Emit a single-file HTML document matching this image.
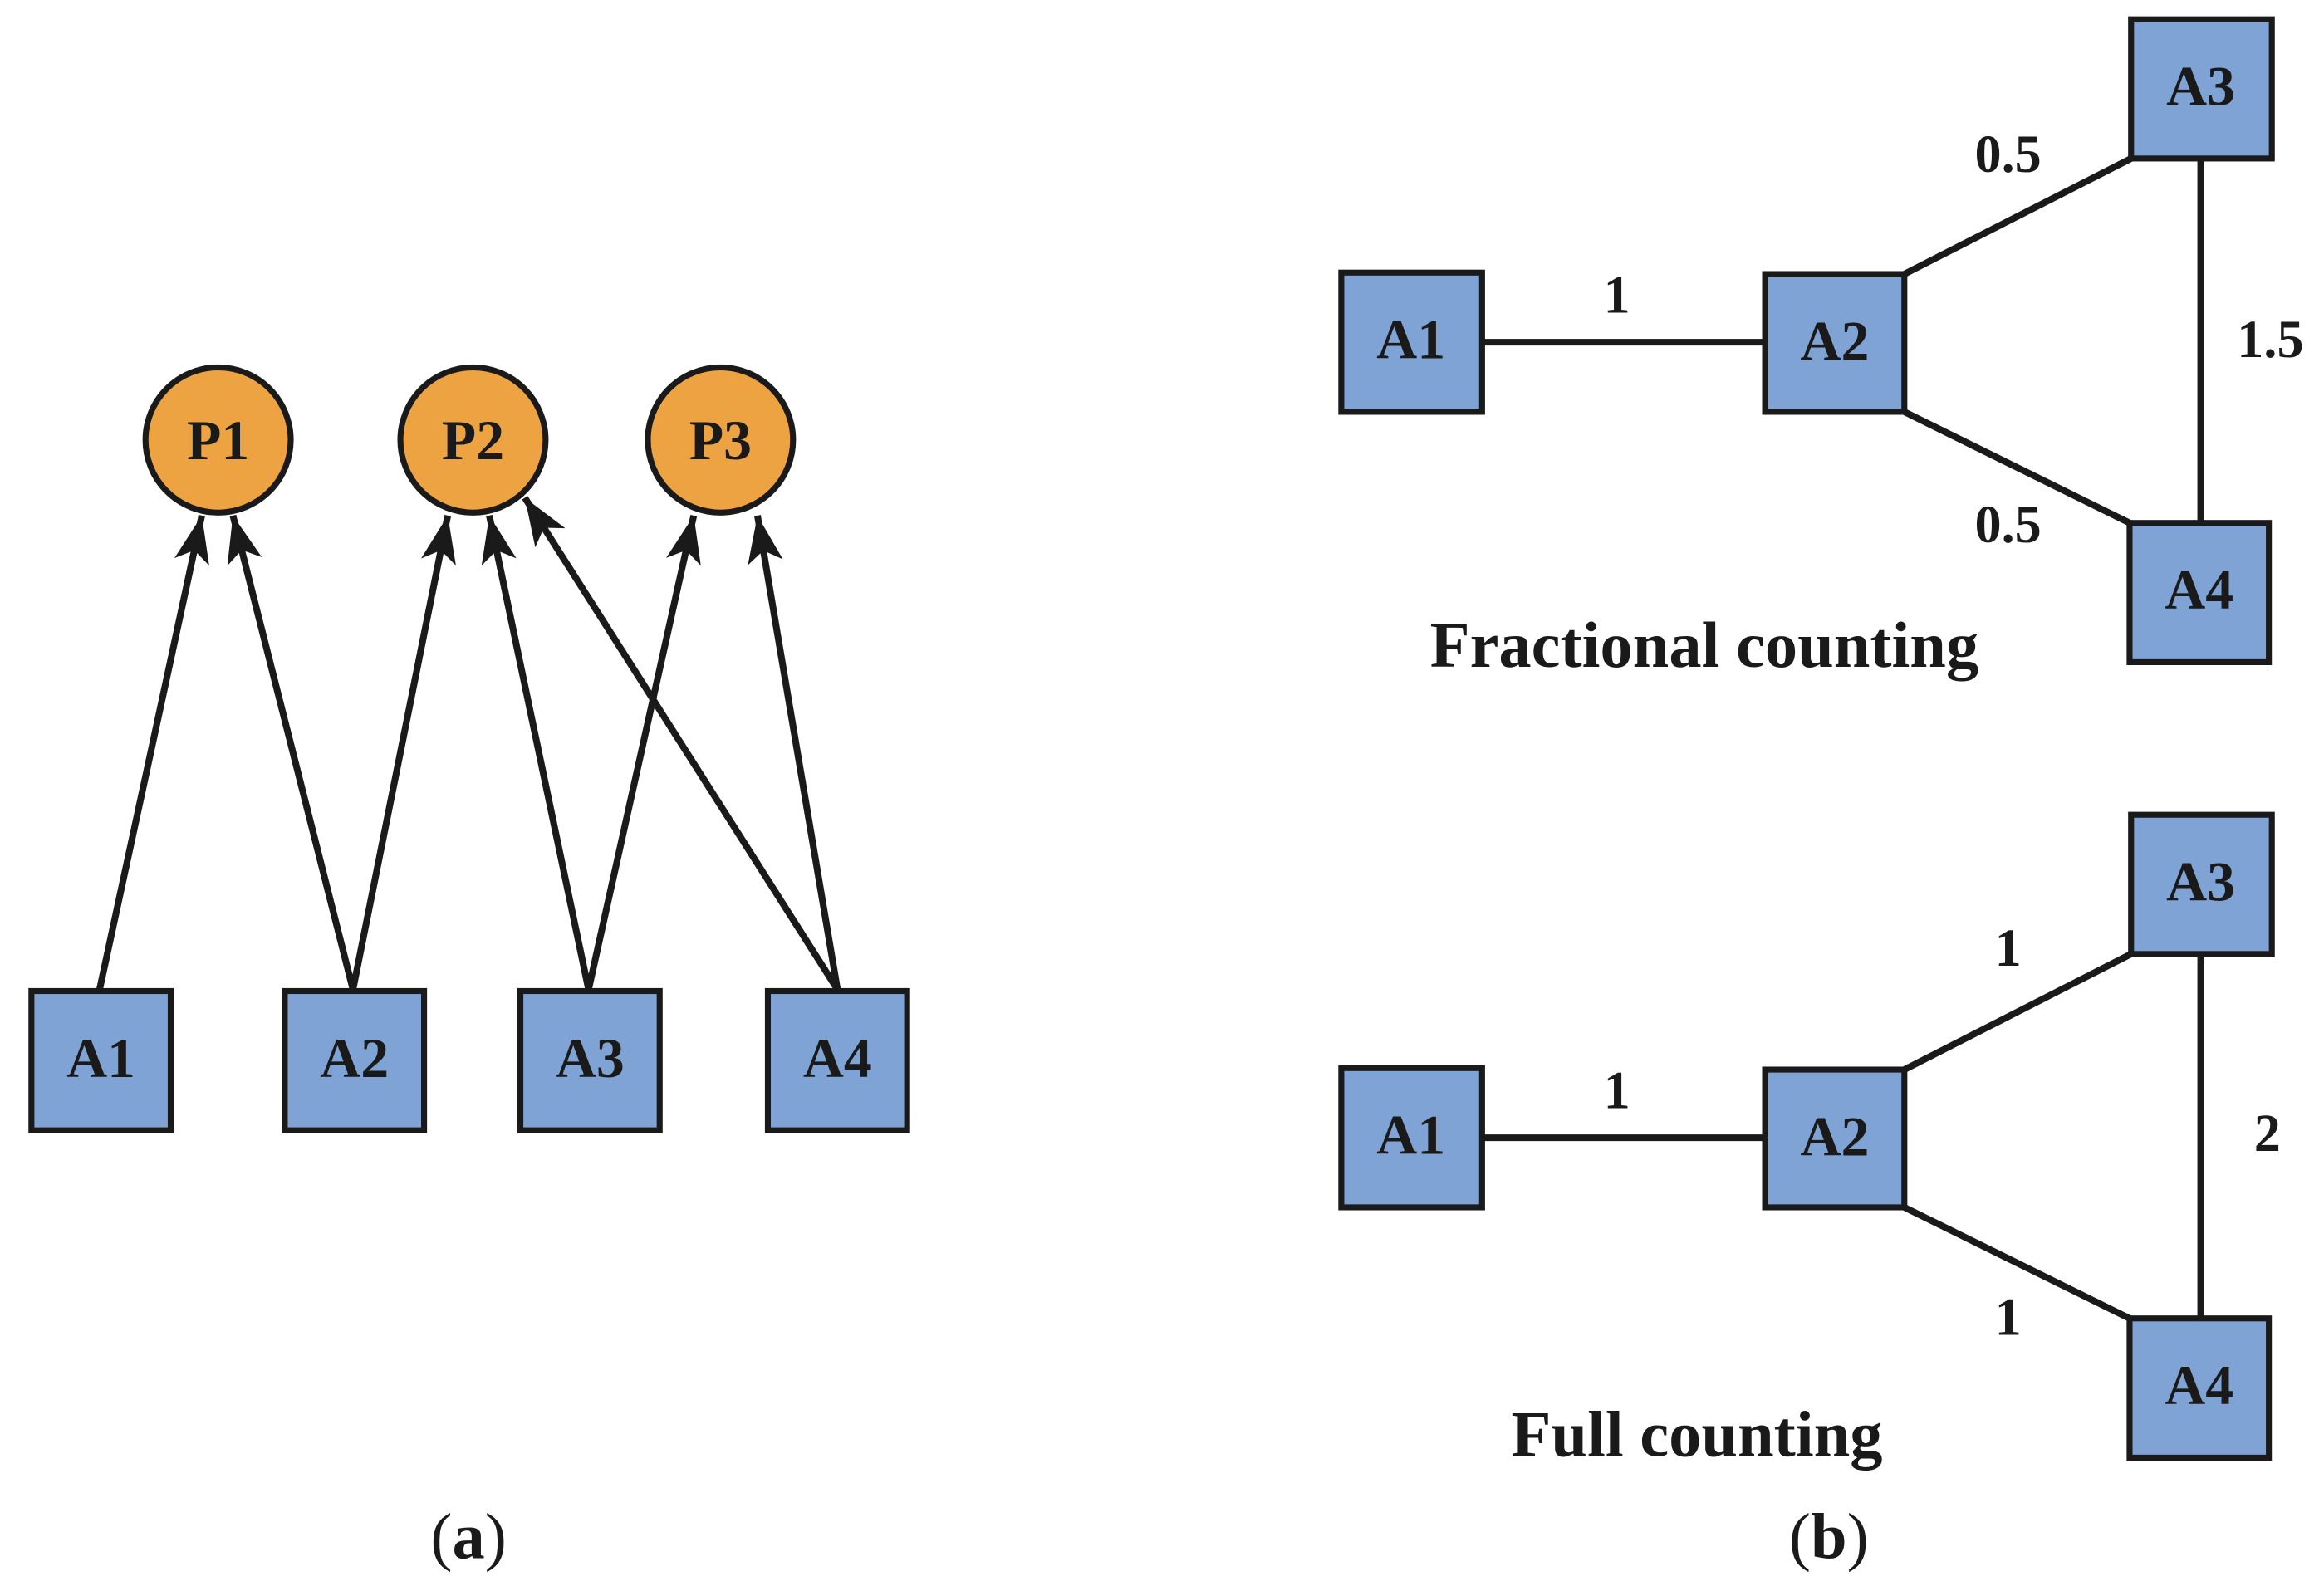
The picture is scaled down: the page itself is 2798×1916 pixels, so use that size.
<!DOCTYPE html>
<html><head><meta charset="utf-8"><style>
html,body{margin:0;padding:0;background:#fff;}
svg{display:block;}
</style></head><body>
<svg width="2798" height="1916" viewBox="0 0 1568 1074" xmlns="http://www.w3.org/2000/svg" font-family="'Liberation Serif', serif" font-weight="bold">
<defs>
<marker id="ah" markerUnits="userSpaceOnUse" markerWidth="34" markerHeight="28" viewBox="0 0 34 28" refX="32" refY="14" orient="auto">
<path d="M0,2 L32,14 L0,26 L8,14 Z" fill="#1a1a1a"/>
</marker>
</defs>
<rect width="1568" height="1074" fill="#fff"/>
<g stroke="#1a1a1a" stroke-width="4.5" fill="none">
<line x1="67" y1="668" x2="136" y2="348" marker-end="url(#ah)"/>
<line x1="238" y1="668" x2="157" y2="348" marker-end="url(#ah)"/>
<line x1="238" y1="668" x2="302" y2="348" marker-end="url(#ah)"/>
<line x1="397" y1="668" x2="330" y2="348" marker-end="url(#ah)"/>
<line x1="397" y1="668" x2="468" y2="348" marker-end="url(#ah)"/>
<line x1="565" y1="668" x2="354" y2="336" marker-end="url(#ah)"/>
<line x1="565" y1="668" x2="511" y2="348" marker-end="url(#ah)"/>
</g>
<g stroke="#1a1a1a" stroke-width="4" fill="#eda342">
<circle cx="147" cy="297" r="49"/>
<circle cx="319" cy="297" r="49"/>
<circle cx="486" cy="297" r="49"/>
</g>
<g font-size="38" text-anchor="middle" fill="#1a1a1a">
<text x="147" y="310">P1</text><text x="319" y="310">P2</text><text x="486" y="310">P3</text>
</g>
<g stroke="#1a1a1a" stroke-width="4" fill="#7fa3d4">
<rect x="21" y="669" width="94" height="94"/>
<rect x="192" y="669" width="94" height="94"/>
<rect x="351" y="669" width="94" height="94"/>
<rect x="518" y="669" width="94" height="94"/>
</g>
<g font-size="38" text-anchor="middle" fill="#1a1a1a">
<text x="68" y="727">A1</text><text x="239" y="727">A2</text><text x="398" y="727">A3</text><text x="565" y="727">A4</text>
</g>

<g stroke="#1a1a1a" stroke-width="4.5">
<line x1="1000" y1="231" x2="1191" y2="231"/>
<line x1="1285" y1="185" x2="1438" y2="107"/>
<line x1="1285" y1="278" x2="1437" y2="353"/>
<line x1="1485" y1="107" x2="1485" y2="353"/>
<line x1="1000" y1="768" x2="1191" y2="768"/>
<line x1="1285" y1="722" x2="1438" y2="644"/>
<line x1="1285" y1="815" x2="1437" y2="890"/>
<line x1="1485" y1="644" x2="1485" y2="890"/>
</g>
<g stroke="#1a1a1a" stroke-width="4" fill="#7fa3d4">
<rect x="905" y="184" width="95" height="94"/>
<rect x="1191" y="185" width="94" height="93"/>
<rect x="1438" y="13" width="95" height="94"/>
<rect x="1437" y="353" width="94" height="94"/>
<rect x="905" y="721" width="95" height="94"/>
<rect x="1191" y="722" width="94" height="93"/>
<rect x="1438" y="550" width="95" height="94"/>
<rect x="1437" y="890" width="94" height="94"/>
</g>
<g font-size="38" text-anchor="middle" fill="#1a1a1a">
<text x="952" y="242">A1</text><text x="1238" y="243">A2</text><text x="1485" y="71">A3</text><text x="1484" y="411">A4</text>
<text x="952" y="779">A1</text><text x="1238" y="780">A2</text><text x="1485" y="608">A3</text><text x="1484" y="948">A4</text>
</g>
<g font-size="36" text-anchor="middle" fill="#1a1a1a">
<text x="1091" y="211">1</text><text x="1355" y="116">0.5</text><text x="1532" y="241">1.5</text><text x="1355" y="366">0.5</text>
<text x="1091" y="748">1</text><text x="1355" y="652">1</text><text x="1530" y="777">2</text><text x="1355" y="901">1</text>
</g>
<g font-size="44" text-anchor="middle" fill="#1a1a1a">
<text x="1150" y="450">Fractional counting</text>
<text x="1145" y="983">Full counting</text>
</g>
<g font-size="44" text-anchor="middle" fill="#1a1a1a">
<text x="316" y="1052" font-weight="normal">(<tspan font-weight="bold">a</tspan>)</text>
<text x="1234" y="1052" font-weight="normal">(<tspan font-weight="bold">b</tspan>)</text>
</g>
</svg>
</body></html>
